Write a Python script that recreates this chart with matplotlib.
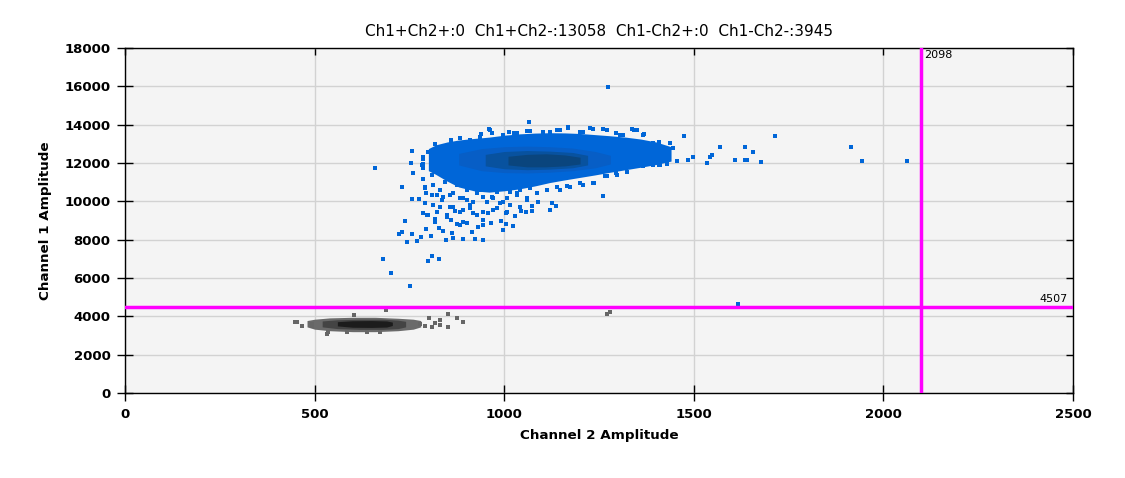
import matplotlib
matplotlib.use("Agg")
import matplotlib.pyplot as plt
from matplotlib.lines import TICKDOWN, TICKLEFT
import numpy as np

# ---------------------------------------------------------------
# values (data units)
# ---------------------------------------------------------------
threshold_ch2 = 2098
threshold_ch1 = 4507
title_text = "Ch1+Ch2+:0  Ch1+Ch2-:13058  Ch1-Ch2+:0  Ch1-Ch2-:3945"

# blue cloud (Ch1+ Ch2-): body of the cloud, per Ch2 column
blue_x = [800, 820, 850, 880, 920, 960, 1000, 1040, 1080, 1120, 1160, 1200,
          1240, 1280, 1320, 1360, 1400, 1440]
blue_lo = [11600, 11400, 11050, 10750, 10550, 10480, 10550, 10650, 10800, 10980,
           11120, 11250, 11380, 11520, 11650, 11780, 11920, 12100]
blue_hi = [12750, 12950, 13100, 13200, 13280, 13350, 13450, 13520, 13560, 13580,
           13570, 13540, 13480, 13420, 13350, 13250, 13100, 12850]

# denser middle of the blue cloud
blue_mid_x = [880, 940, 1000, 1060, 1120, 1180, 1240, 1280]
blue_mid_lo = [11900, 11600, 11500, 11480, 11520, 11600, 11750, 11950]
blue_mid_hi = [12500, 12750, 12850, 12880, 12850, 12780, 12600, 12400]
blue_core_x = [950, 1000, 1060, 1120, 1180, 1220]
blue_core_lo = [11850, 11700, 11650, 11680, 11750, 11900]
blue_core_hi = [12450, 12600, 12650, 12620, 12550, 12400]
blue_inner_x = [1010, 1060, 1110, 1160, 1200]
blue_inner_lo = [11900, 11800, 11800, 11850, 11950]
blue_inner_hi = [12350, 12450, 12480, 12420, 12300]

# single blue droplets outside the body (ch2, ch1)
blue_pts = [
    (1274, 15950), (1066, 14120), (1475, 13390), (660, 11720), (1536, 11980),
    (1499, 12300), (1485, 12160), (1261, 10260), (758, 12610), (755, 11980),
    (760, 11460), (731, 10730), (787, 11170), (758, 10120), (776, 10120),
    (739, 8960), (722, 8280), (731, 8420), (743, 7860), (756, 8280), (769, 7910),
    (781, 8140), (808, 8170), (681, 6970), (702, 6240), (752, 5570), (800, 6870),
    (810, 7130), (829, 6970), (794, 8560), (829, 8610), (839, 8450), (863, 8330),
    (847, 7970), (866, 8070), (892, 8020), (914, 8380), (924, 8020), (945, 7970),
    (787, 9370), (800, 9270), (818, 9060), (848, 9170), (860, 9030), (875, 8820),
    (883, 8750), (903, 8890), (930, 8660), (943, 8750), (966, 8890), (992, 8970),
    (1006, 8820), (1024, 8710), (998, 8510), (792, 9930), (813, 9790), (831, 9720),
    (857, 9720), (871, 9510), (892, 9550), (910, 9640), (918, 9410), (927, 9290),
    (945, 9460), (958, 9410), (980, 9640), (1006, 9370), (1029, 9240), (1043, 9500),
    (1057, 9460), (1074, 9500), (1074, 9770), (1090, 9950), (1126, 9900),
    (1137, 9740), (1122, 9530), (791, 10680), (795, 10420), (822, 10330),
    (839, 10240), (866, 10420), (883, 10160), (901, 10070), (918, 9980),
    (945, 10240), (971, 10160), (998, 9980), (1015, 9810), (1033, 10420),
    (1059, 10160), (1086, 10420), (1112, 10590), (1147, 10590), (1173, 10770),
    (1209, 10840), (1236, 10940), (1267, 11320), (1296, 11460), (1320, 11720),
    (1347, 11910), (1367, 11840), (1376, 12050), (1393, 12070), (1409, 11880),
    (1430, 11950), (1416, 12160), (1435, 12260), (1455, 12100), (1402, 12680),
    (1393, 13030), (1409, 13110), (1437, 13060), (1446, 12770), (1433, 12540),
    (1369, 13510), (1349, 13720), (1338, 13770), (1314, 13460), (1296, 13550),
    (1261, 13760), (1226, 13810), (1209, 13640), (1169, 13860), (1147, 13720),
    (1121, 13640), (1103, 13640), (1059, 13690), (1026, 13550), (1013, 13600),
    (961, 13760), (940, 13510), (967, 13550), (883, 13290), (861, 13170),
    (818, 12970), (787, 12190), (787, 11930), (804, 12570),
    (1715, 13390), (1570, 12820), (1636, 12820), (1915, 12820), (1657, 12560),
    (1549, 12400), (1543, 12300), (1456, 12090), (1609, 12140), (1636, 12140),
    (1641, 12140), (1678, 12040), (1944, 12090), (2063, 12090), (1617, 4640),
    # droplets hugging the edge of the body
    (787, 11720), (791, 10765), (813, 10850), (809, 10330), (831, 10590),
    (835, 10070), (857, 10330), (866, 9720), (892, 10160), (910, 9810),
    (927, 10420), (954, 9980), (967, 10240), (989, 9895), (1007, 10160),
    (1033, 10330), (1059, 10070), (1042, 9720), (1086, 10420), (1112, 10590),
    (1138, 10765), (1165, 10820), (1200, 10940), (1235, 10940), (1270, 11320),
    (1297, 11370), (1323, 11550), (1358, 11890), (1393, 11890), (1411, 11890),
    (1428, 12240), (1433, 12590), (1393, 13030), (1367, 13460), (1341, 13720),
    (1305, 13460), (1270, 13720), (1235, 13770), (1200, 13630), (1169, 13840),
    (1138, 13720), (1103, 13630), (1068, 13670), (1033, 13550), (998, 13460),
    (963, 13720), (936, 13370), (910, 13200), (883, 13290), (861, 13200),
    (840, 12770), (813, 12590), (800, 12560), (787, 12330), (782, 11890),
    (809, 11370), (844, 11020), (875, 10850), (901, 10590), (936, 10590),
    (980, 10500), (1015, 10500), (1042, 10590), (1068, 10680), (883, 9460),
    (927, 9290), (971, 9550), (1007, 9460), (945, 9030), (892, 8940),
    (848, 9290), (822, 9460), (796, 9290), (818, 8940),
]

# grey cloud (Ch1- Ch2-)
grey_x = [480, 500, 540, 600, 660, 720, 760, 780]
grey_lo = [3450, 3330, 3250, 3200, 3200, 3250, 3330, 3450]
grey_hi = [3780, 3850, 3920, 3950, 3950, 3900, 3850, 3780]
grey_mid_x = [520, 560, 620, 680, 720, 740]
grey_mid_lo = [3450, 3360, 3320, 3320, 3360, 3450]
grey_mid_hi = [3760, 3820, 3850, 3850, 3800, 3740]
grey_core_x = [560, 600, 650, 690, 705]
grey_core_lo = [3500, 3430, 3420, 3440, 3520]
grey_core_hi = [3720, 3770, 3780, 3760, 3700]

grey_pts = [
    (448, 3690), (454, 3690), (468, 3480), (494, 3620), (494, 3480), (532, 3060),
    (536, 3170), (605, 4085), (688, 4315), (803, 3900), (818, 3640), (831, 3790),
    (831, 3530), (853, 4120), (853, 3460), (875, 3900), (892, 3720), (778, 3600),
    (791, 3480), (809, 3420), (585, 3170), (637, 3170), (672, 3170), (1270, 4110),
    (1280, 4250),
]

# ---------------------------------------------------------------
fig = plt.figure(figsize=(11.25, 4.78), dpi=100)
ax = fig.add_axes([125 / 1125, 1 - 393 / 478, 948 / 1125, 345 / 478])
ax.set_facecolor("#f4f4f4")
ax.grid(True, color="#d2d2d2", linewidth=1)
ax.set_axisbelow(True)

blue = "#0066d8"
ax.fill_between(blue_x, blue_lo, blue_hi, color=blue, linewidth=0, zorder=2)
ax.fill_between(blue_mid_x, blue_mid_lo, blue_mid_hi, color="#075ec6", linewidth=0, zorder=2)
ax.fill_between(blue_core_x, blue_core_lo, blue_core_hi, color="#08529f", linewidth=0, zorder=2)
ax.fill_between(blue_inner_x, blue_inner_lo, blue_inner_hi, color="#0a457d", linewidth=0, zorder=2)
bx, by = zip(*blue_pts)
ax.scatter(bx, by, s=7, marker="s", color=blue, linewidths=0, zorder=3)

ax.fill_between(grey_x, grey_lo, grey_hi, color="#6a6a6a", linewidth=0, zorder=2)
ax.fill_between(grey_mid_x, grey_mid_lo, grey_mid_hi, color="#444444", linewidth=0, zorder=2)
ax.fill_between(grey_core_x, grey_core_lo, grey_core_hi, color="#1c1c1c", linewidth=0, zorder=2)
gx, gy = zip(*grey_pts)
ax.scatter(gx, gy, s=7, marker="s", color="#666666", linewidths=0, zorder=3)

# threshold lines
ax.axvline(threshold_ch2, color="#ff00ff", linewidth=2.5, zorder=4)
ax.axhline(threshold_ch1, color="#ff00ff", linewidth=2.5, zorder=4)
ax.text(threshold_ch2 + 10, 17900, str(threshold_ch2), fontsize=8, va="top", ha="left", zorder=5)
ax.text(2485, threshold_ch1 + 120, str(threshold_ch1), fontsize=8, va="bottom", ha="right", zorder=5)

ax.set_xlim(0, 2500)
ax.set_ylim(0, 18000)
ax.set_xticks(np.arange(0, 2501, 500))
ax.set_yticks(np.arange(0, 18001, 2000))
for s in ax.spines.values():
    s.set_color("black")
    s.set_linewidth(1)
ax.tick_params(axis="both", which="both", direction="inout", length=11, width=1,
               labelsize=9.5, top=True, right=True, pad=5)
# top and right ticks only point inwards
for t in ax.xaxis.get_major_ticks():
    t.tick2line.set_marker(TICKDOWN)
    t.tick2line.set_markersize(5)
for t in ax.yaxis.get_major_ticks():
    t.tick2line.set_marker(TICKLEFT)
    t.tick2line.set_markersize(5)
for lab in ax.get_xticklabels() + ax.get_yticklabels():
    lab.set_fontweight("bold")

ax.set_xlabel("Channel 2 Amplitude", fontsize=9.7, fontweight="bold", labelpad=6)
ax.set_ylabel("Channel 1 Amplitude", fontsize=9.7, fontweight="bold", labelpad=9)
ax.set_title(title_text, fontsize=11, pad=9)

fig.savefig("out.png", dpi=100)
